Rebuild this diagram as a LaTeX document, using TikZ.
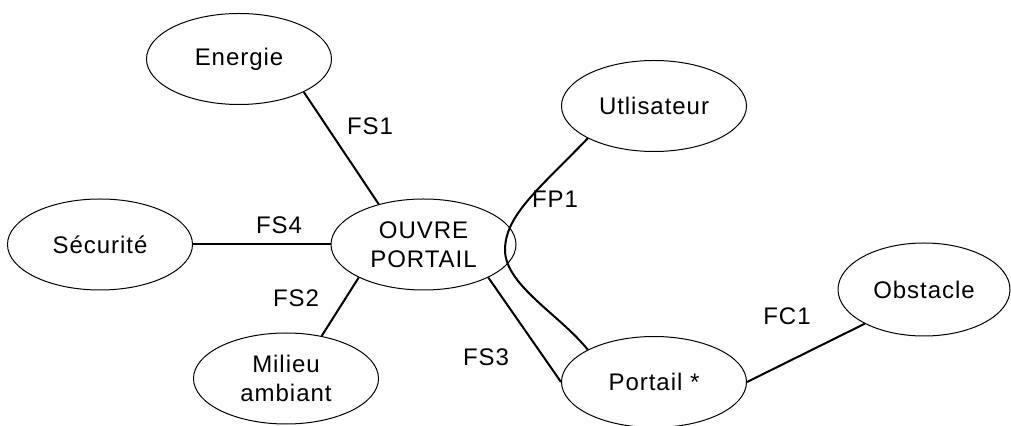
\documentclass[tikz,border=0pt]{standalone}
\usepackage{fontspec}
\setmainfont[LetterSpace=4]{Liberation Sans}
\usetikzlibrary{shapes.geometric}

\begin{document}
\begin{tikzpicture}[
    x=0.5pt, y=-0.5pt,
    bulle/.style={ellipse, draw=black, line width=0.5pt, inner sep=0pt, align=center, minimum width=92.5pt, minimum height=45.5pt, font=\fontsize{12}{14.5}\selectfont},
    lien/.style={line width=1pt, draw=black},
    etiq/.style={inner sep=0pt, font=\fontsize{12}{14.5}\selectfont}
  ]
    \useasboundingbox (0,0) rectangle (1011,426);
    \node[bulle] (energie) at (239,59) {Energie};
    \node[bulle] (utilisateur) at (654,106) {Utlisateur};
    \node[bulle] (securite) at (100,244.5) {Sécurité};
    \node[bulle] (ouvre) at (423.5,244.5) {OUVRE\\PORTAIL};
    \node[bulle] (milieu) at (286,378.5) {Milieu\\ambiant};
    \node[bulle] (portail) at (654,382) {Portail *};
    \node[bulle, minimum width=86pt, minimum height=46.5pt] (obstacle) at (924,289.5) {Obstacle};
    \node[etiq] (fs1) at (370,126) {FS1};
    \node[etiq] (fs4) at (279,225) {FS4};
    \node[etiq] (fs2) at (296,298) {FS2};
    \node[etiq] (fs3) at (486,357) {FS3};
    \node[etiq] (fp1) at (555,199) {FP1};
    \node[etiq] (fc1) at (787,316) {FC1};
    \draw[lien] (energie.-27) -- (ouvre.138);
    \draw[lien] (securite.east) -- (ouvre.west);
    \draw[lien] (ouvre.207) -- (milieu.50);
    \draw[lien] (ouvre.-27) -- (portail.west);
    \draw[lien] (portail.east) -- (obstacle.210);
    \draw[lien] (utilisateur.206) .. controls (540,188) and (505,215) .. (505,250)
      .. controls (505,285) and (560,315) .. (portail.154);
  \end{tikzpicture}
\end{document}
